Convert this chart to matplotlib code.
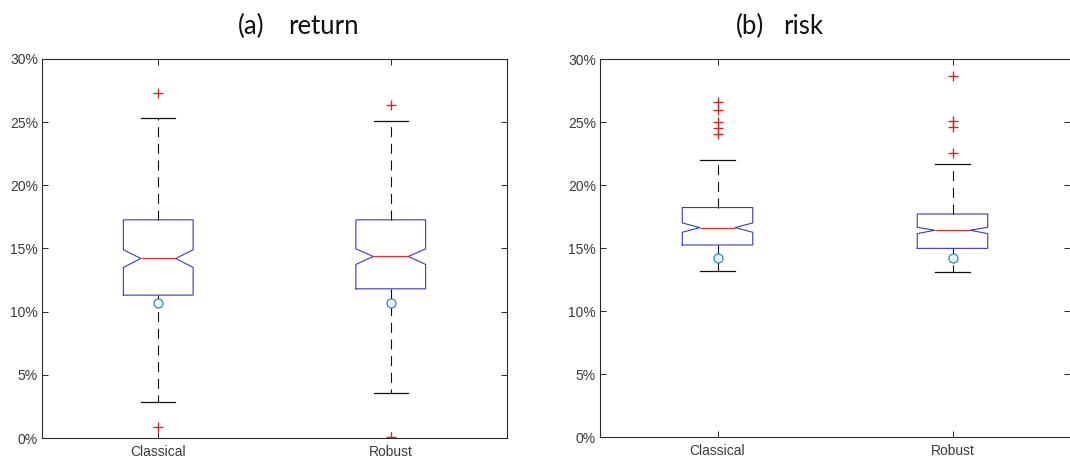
"""Notched box plots of portfolio return and risk: classical vs robust estimates."""

import matplotlib
matplotlib.use("Agg")
import matplotlib.pyplot as plt

# ---- data (percent) ---------------------------------------------------------
methods = ["Classical", "Robust"]
panel_tags = ["(a)", "(b)"]
panel_names = ["return", "risk"]

ret_q1 = [11.31, 11.81]
ret_med = [14.21, 14.37]
ret_q3 = [17.27, 17.27]
ret_cilo = [13.50, 13.74]
ret_cihi = [14.90, 14.97]
ret_whislo = [2.85, 3.56]
ret_whishi = [25.31, 25.07]
ret_mark = [10.70, 10.70]
ret_fliers = [[27.34, 0.84], [26.39, 0.08]]

risk_q1 = [15.24, 14.97]
risk_med = [16.62, 16.41]
risk_q3 = [18.21, 17.70]
risk_cilo = [16.25, 16.14]
risk_cihi = [16.99, 16.64]
risk_whislo = [13.17, 13.07]
risk_whishi = [21.95, 21.63]
risk_mark = [14.18, 14.18]
risk_fliers = [[26.58, 25.95, 24.99, 24.52, 24.04], [28.62, 25.07, 24.60, 22.55]]

yticks = [0, 5, 10, 15, 20, 25, 30]
ytick_labels = [f"{v}%" for v in yticks]

# ---- style ------------------------------------------------------------------
_BOX = "#3a3abf"
_MED = "#e03030"
_FLIER = "#cc2a2a"
_AXIS = "#2a2a2a"
_TXT = "#3a3a3a"


def _stats(q1, med, q3, cilo, cihi, lo, hi, mark, fliers):
    out = []
    for i in range(len(q1)):
        out.append(dict(q1=q1[i], med=med[i], q3=q3[i], cilo=cilo[i], cihi=cihi[i],
                        whislo=lo[i], whishi=hi[i], mean=mark[i], fliers=fliers[i]))
    return out


def _panel(ax, stats):
    ax.bxp(stats, positions=[1, 2], widths=0.3, capwidths=0.145,
           shownotches=True, showmeans=True, showfliers=True, manage_ticks=False,
           boxprops=dict(color=_BOX, linewidth=0.8),
           medianprops=dict(color=_MED, linewidth=0.9),
           whiskerprops=dict(color="#111111", linewidth=0.8, linestyle=(0, (9, 6))),
           capprops=dict(color="#111111", linewidth=0.9),
           flierprops=dict(marker="+", markeredgecolor=_FLIER, markersize=7.5,
                           markeredgewidth=1.0, linestyle="none"),
           meanprops=dict(marker="o", markerfacecolor="#e8f8fb", markeredgecolor="#3a86b5",
                          markersize=6.5, markeredgewidth=0.9, linestyle="none"))
    ax.set_xlim(0.5, 2.5)
    ax.set_ylim(0, 30)
    ax.set_xticks([1, 2])
    ax.set_xticklabels(methods)
    ax.set_yticks(yticks)
    ax.set_yticklabels(ytick_labels)
    ax.tick_params(direction="in", length=4, width=0.7, color=_AXIS, labelsize=10,
                   labelcolor=_TXT, top=True, right=True)
    ax.tick_params(axis="x", pad=5)
    ax.tick_params(axis="y", pad=3)
    for sp in ax.spines.values():
        sp.set_color(_AXIS)
        sp.set_linewidth(0.8)
    for lab in ax.get_xticklabels() + ax.get_yticklabels():
        lab.set_fontfamily("Liberation Sans")


fig = plt.figure(figsize=(10.7, 4.61), dpi=100)
ax1 = fig.add_axes([42 / 1070, 23 / 461, 465 / 1070, 379 / 461])
ax2 = fig.add_axes([600 / 1070, 24 / 461, 470 / 1070, 378 / 461])

_panel(ax1, _stats(ret_q1, ret_med, ret_q3, ret_cilo, ret_cihi,
                   ret_whislo, ret_whishi, ret_mark, ret_fliers))
_panel(ax2, _stats(risk_q1, risk_med, risk_q3, risk_cilo, risk_cihi,
                   risk_whislo, risk_whishi, risk_mark, risk_fliers))
ax2.spines["right"].set_visible(False)

# panel titles: tag and name placed separately (as in the source layout)
title_kw = dict(ha="left", va="center", fontsize=18.5, family="Lato", color="#111111")
for tag, name, x_tag, x_name in zip(panel_tags, panel_names, [238, 736], [288, 783]):
    fig.text(x_tag / 1070, 1 - 26 / 461, tag, **title_kw)
    fig.text(x_name / 1070, 1 - 26 / 461, name, **title_kw)

fig.savefig("out.png", dpi=100)
